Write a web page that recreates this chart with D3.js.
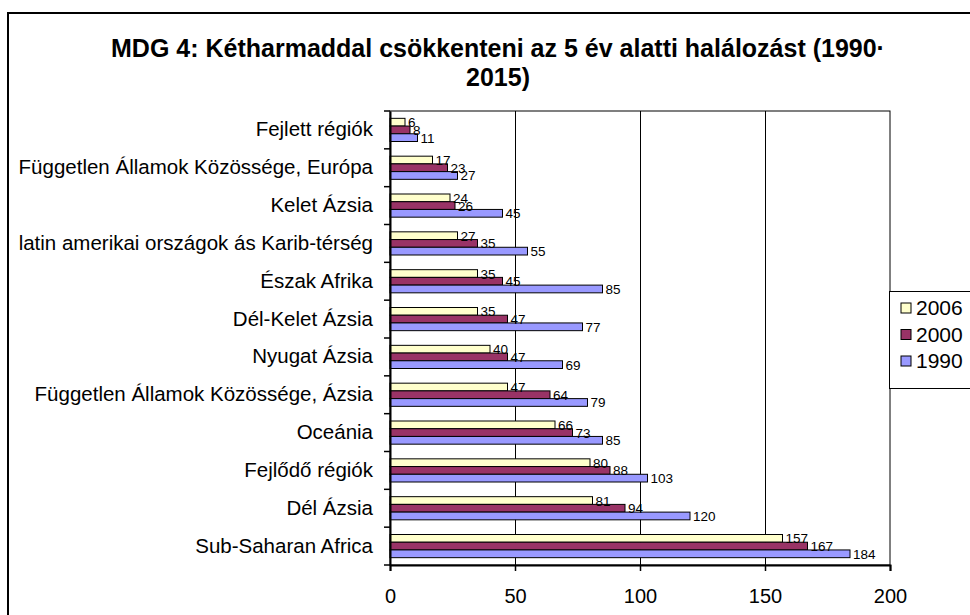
<!DOCTYPE html>
<html>
<head>
<meta charset="utf-8">
<script src="https://cdn.jsdelivr.net/npm/d3@7"></script>
<style>
  body { margin: 0; background: #fff; }
  svg { display: block; font-family: "Liberation Sans", Arial, sans-serif; }
</style>
</head>
<body>
<div id="chart"></div>
<script>
var categories = [
  "Fejlett régiók",
  "Független Államok Közössége, Európa",
  "Kelet Ázsia",
  "latin amerikai országok ás Karib-térség",
  "Észak Afrika",
  "Dél-Kelet Ázsia",
  "Nyugat Ázsia",
  "Független Államok Közössége, Ázsia",
  "Oceánia",
  "Fejlődő régiók",
  "Dél Ázsia",
  "Sub-Saharan Africa"
];
var series = ["2006", "2000", "1990"];
var values2006 = [6, 17, 24, 27, 35, 35, 40, 47, 66, 80, 81, 157];
var values2000 = [8, 23, 26, 35, 45, 47, 47, 64, 73, 88, 94, 167];
var values1990 = [11, 27, 45, 55, 85, 77, 69, 79, 85, 103, 120, 184];
var xTicks = [0, 50, 100, 150, 200];

var colors = { "2006": "#ffffcc", "2000": "#993366", "1990": "#9999ff" };

var data = categories.map(function(c, i){
  return { name: c, "2006": values2006[i], "2000": values2000[i], "1990": values1990[i] };
});

var width = 970, height = 615;
var plot = { left: 390, right: 890, top: 111, bottom: 565 };

var svg = d3.select("#chart").append("svg")
  .attr("width", width)
  .attr("height", height);

// outer chart frame
svg.append("rect")
  .attr("x", 8).attr("y", 13)
  .attr("width", 1000).attr("height", 700)
  .attr("fill", "#fff")
  .attr("stroke", "#000")
  .attr("stroke-width", 2);

// title
var title = svg.append("text")
  .attr("text-anchor", "middle")
  .style("font-weight", "bold")
  .style("font-size", "25px")
  .attr("fill", "#000");
title.append("tspan").attr("x", 498).attr("y", 57)
  .text("MDG 4: Kétharmaddal csökkenteni az 5 év alatti halálozást (1990·");
title.append("tspan").attr("x", 498).attr("y", 86)
  .text("2015)");

var x = d3.scaleLinear()
  .domain([0, 200])
  .range([plot.left, plot.right]);

var y = d3.scaleBand()
  .domain(categories)
  .range([plot.top, plot.bottom]);

var ySub = d3.scaleBand()
  .domain(series)
  .range([0, y.bandwidth()])
  .paddingOuter(0.95);

// plot area border
svg.append("rect")
  .attr("x", plot.left).attr("y", plot.top)
  .attr("width", plot.right - plot.left)
  .attr("height", plot.bottom - plot.top)
  .attr("fill", "none")
  .attr("stroke", "#000")
  .attr("stroke-width", 1);

// gridlines
svg.append("g")
  .selectAll("line")
  .data(xTicks.slice(1, -1))
  .enter().append("line")
  .attr("x1", function(d){ return x(d) + 0.5; })
  .attr("x2", function(d){ return x(d) + 0.5; })
  .attr("y1", plot.top)
  .attr("y2", plot.bottom)
  .attr("stroke", "#000")
  .attr("stroke-width", 1);

// bars
var groups = svg.append("g")
  .selectAll("g")
  .data(data)
  .enter().append("g")
  .attr("transform", function(d){ return "translate(0," + y(d.name) + ")"; });

groups.selectAll("rect")
  .data(function(d){
    return series.map(function(s){ return { key: s, value: d[s] }; });
  })
  .enter().append("rect")
  .attr("x", x(0))
  .attr("y", function(d){ return ySub(d.key); })
  .attr("width", function(d){ return x(d.value) - x(0); })
  .attr("height", ySub.bandwidth())
  .attr("fill", function(d){ return colors[d.key]; })
  .attr("stroke", "#000")
  .attr("stroke-width", 1);

groups.selectAll("text")
  .data(function(d){
    return series.map(function(s){ return { key: s, value: d[s] }; });
  })
  .enter().append("text")
  .attr("x", function(d){ return x(d.value) + 3; })
  .attr("y", function(d){ return ySub(d.key) + ySub.bandwidth() / 2 + 5; })
  .style("font-size", "13.5px")
  .attr("fill", "#000")
  .text(function(d){ return d.value; });

// y axis
var yAxis = d3.axisLeft(y).tickSize(0).tickPadding(17);
var gy = svg.append("g")
  .attr("transform", "translate(" + plot.left + ",0)")
  .call(yAxis);
gy.select(".domain").attr("stroke", "#000").attr("stroke-width", 2);
gy.selectAll(".tick text").style("font-size", "20.5px").attr("fill", "#000");

// y tick marks at band boundaries
svg.append("g")
  .selectAll("line")
  .data(categories.map(function(c){ return y(c); }).concat([plot.bottom]))
  .enter().append("line")
  .attr("x1", plot.left - 6)
  .attr("x2", plot.left)
  .attr("y1", function(d){ return d; })
  .attr("y2", function(d){ return d; })
  .attr("stroke", "#000")
  .attr("stroke-width", 1.5);

// x axis
var xAxis = d3.axisBottom(x).tickValues(xTicks).tickSize(6).tickPadding(18);
var gx = svg.append("g")
  .attr("transform", "translate(0," + plot.bottom + ")")
  .call(xAxis);
gx.select(".domain").attr("stroke", "#000").attr("stroke-width", 2);
gx.selectAll(".tick line").attr("stroke", "#000").attr("stroke-width", 1.5);
gx.selectAll(".tick text").style("font-size", "20px").attr("fill", "#000");

// legend
var legend = svg.append("g");
legend.append("rect")
  .attr("x", 889.5).attr("y", 291.5)
  .attr("width", 100).attr("height", 97)
  .attr("fill", "#fff")
  .attr("stroke", "#000")
  .attr("stroke-width", 1);

var items = legend.selectAll("g.item")
  .data(series)
  .enter().append("g")
  .attr("class", "item")
  .attr("transform", function(d, i){ return "translate(901," + (308 + i * 26.5) + ")"; });

items.append("rect")
  .attr("x", 0).attr("y", -5)
  .attr("width", 10).attr("height", 10)
  .attr("fill", function(d){ return colors[d]; })
  .attr("stroke", "#000")
  .attr("stroke-width", 1);

items.append("text")
  .attr("x", 15)
  .attr("y", 7)
  .style("font-size", "21px")
  .attr("fill", "#000")
  .text(function(d){ return d; });
</script>
</body>
</html>
